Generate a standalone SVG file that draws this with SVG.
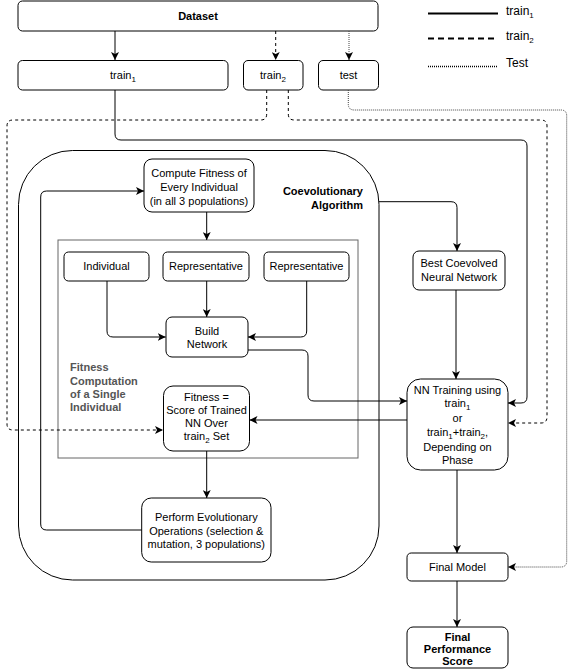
<svg xmlns="http://www.w3.org/2000/svg" width="575" height="669" viewBox="0 0 575 669">
<style>
.box{fill:#fff;stroke:#000;stroke-width:1}
.t{font-family:"Liberation Sans",Arial,sans-serif;font-size:11px;fill:#000;text-anchor:middle}
.b{font-weight:bold}
.gray{fill:#555;font-weight:bold;text-anchor:start}
.c{fill:none;stroke:#000;stroke-width:1}
.dash{stroke-dasharray:3 3}
.dot{stroke-dasharray:1 1;stroke:#444}
.lg{font-family:"Liberation Sans",Arial,sans-serif;font-size:12px;fill:#000}
</style>
<defs>
<marker id="ah" markerWidth="9" markerHeight="8" refX="8" refY="4" orient="auto" markerUnits="userSpaceOnUse">
<path d="M0,0 L8,4 L0,8 L2,4 Z" fill="#000"/>
</marker>
</defs>
<rect width="575" height="669" fill="#fff"/>

<g id="legend">
<line x1="428" y1="13.5" x2="498" y2="13.5" stroke="#000" stroke-width="2"/>
<text class="lg" x="506" y="15">train<tspan font-size="8" dy="3">1</tspan></text>
<line x1="428" y1="38.5" x2="498" y2="38.5" stroke="#000" stroke-width="2" stroke-dasharray="6 4"/>
<text class="lg" x="506" y="40">train<tspan font-size="8" dy="3">2</tspan></text>
<line x1="428" y1="66.5" x2="498" y2="66.5" stroke="#000" stroke-width="1.5" stroke-dasharray="1 1"/>
<text class="lg" x="506" y="67">Test</text>
</g>

<g id="coevolutionary">
<rect class="box" x="18.5" y="150.5" width="360.5" height="429.5" rx="54"/>
<text class="t b" x="363" y="195" text-anchor="end" style="text-anchor:end">Coevolutionary</text>
<text class="t b" x="363" y="209" style="text-anchor:end">Algorithm</text>
</g>

<g id="fitness-computation">
<rect x="58" y="240" width="300" height="218" fill="#fff" stroke="#666"/>
<text class="t gray" x="70" y="371">Fitness</text>
<text class="t gray" x="70" y="384.5">Computation</text>
<text class="t gray" x="70" y="398">of a Single</text>
<text class="t gray" x="70" y="411">Individual</text>
</g>

<g id="dataset">
<rect class="box" x="18" y="1" width="360" height="30" rx="4.5"/>
<text class="t b" x="198" y="20">Dataset</text>
</g>
<g id="train1">
<rect class="box" x="18" y="60.5" width="210" height="29.5" rx="4.5"/>
<text class="t" x="123" y="79">train<tspan font-size="8" dy="3">1</tspan></text>
</g>
<g id="train2">
<rect class="box" x="243.5" y="60.5" width="59.5" height="29.5" rx="4.5"/>
<text class="t" x="273" y="79">train<tspan font-size="8" dy="3">2</tspan></text>
</g>
<g id="test">
<rect class="box" x="318.5" y="60.5" width="60" height="29.5" rx="4.5"/>
<text class="t" x="348.5" y="79">test</text>
</g>

<g id="compute-fitness">
<rect class="box" x="144" y="159" width="110" height="53" rx="8"/>
<text class="t" x="199" y="177">Compute Fitness of</text>
<text class="t" x="199" y="191">Every Individual</text>
<text class="t" x="199" y="205">(in all 3 populations)</text>
</g>
<g id="individual">
<rect class="box" x="64" y="252" width="85" height="29" rx="4.5"/>
<text class="t" x="106.5" y="270">Individual</text>
</g>
<g id="representative1">
<rect class="box" x="163" y="252" width="86" height="29" rx="4.5"/>
<text class="t" x="206" y="270">Representative</text>
</g>
<g id="representative2">
<rect class="box" x="264" y="252" width="85" height="29" rx="4.5"/>
<text class="t" x="306.5" y="270">Representative</text>
</g>
<g id="build-network">
<rect class="box" x="166" y="317" width="82" height="40" rx="6"/>
<text class="t" x="207" y="335">Build</text>
<text class="t" x="207" y="348">Network</text>
</g>
<g id="fitness">
<rect class="box" x="163.5" y="386" width="86" height="65" rx="9.5"/>
<text class="t" x="206.5" y="401">Fitness =</text>
<text class="t" x="206.5" y="414">Score of Trained</text>
<text class="t" x="206.5" y="427">NN Over</text>
<text class="t" x="206.5" y="440">train<tspan font-size="8" dy="3">2</tspan><tspan dy="-3"> Set</tspan></text>
</g>
<g id="perform">
<rect class="box" x="141.7" y="498" width="129.3" height="64" rx="9.5"/>
<text class="t" x="206.3" y="521">Perform Evolutionary</text>
<text class="t" x="206.3" y="535">Operations (selection &amp;</text>
<text class="t" x="206.3" y="548">mutation, 3 populations)</text>
</g>
<g id="best">
<rect class="box" x="413" y="251" width="92" height="39" rx="6"/>
<text class="t" x="459" y="267">Best Coevolved</text>
<text class="t" x="459" y="281">Neural Network</text>
</g>
<g id="nn-training">
<rect class="box" x="407" y="379" width="101" height="91" rx="13.5"/>
<text class="t" x="457.5" y="394">NN Training using</text>
<text class="t" x="457.5" y="407">train<tspan font-size="8" dy="3">1</tspan></text>
<text class="t" x="457.5" y="422">or</text>
<text class="t" x="457.5" y="436">train<tspan font-size="8" dy="3">1</tspan><tspan dy="-3">+train</tspan><tspan font-size="8" dy="3">2</tspan><tspan dy="-3">,</tspan></text>
<text class="t" x="457.5" y="451">Depending on</text>
<text class="t" x="457.5" y="464">Phase</text>
</g>
<g id="final-model">
<rect class="box" x="407" y="553" width="101" height="28" rx="4.2"/>
<text class="t" x="457.5" y="571">Final Model</text>
</g>
<g id="final-score">
<rect class="box" x="407" y="627" width="101" height="41" rx="6"/>
<text class="t b" x="457.5" y="641">Final</text>
<text class="t b" x="457.5" y="653">Performance</text>
<text class="t b" x="457.5" y="665">Score</text>
</g>

<g id="connectors">
<path class="c" d="M115,31 V60" marker-end="url(#ah)"/>
<path class="c dash" d="M275.7,31 V60" marker-end="url(#ah)"/>
<path class="c dot" d="M349,31 V60" marker-end="url(#ah)"/>
<path class="c" stroke="#333" d="M115,90 V134 Q115,140 121,140 H521 Q527,140 527,146 V397 Q527,403 521,403 H508" marker-end="url(#ah)"/>
<path class="c dash" d="M266.7,90 V114 Q266.7,120 260.7,120 H13 Q7,120 7,126 V424 Q7,430 13,430 H163" marker-end="url(#ah)"/>
<path class="c dash" d="M288.3,90 V114 Q288.3,120 294.3,120 H541 Q547,120 547,126 V417 Q547,423 541,423 H508" marker-end="url(#ah)"/>
<path class="c dot" d="M348.3,90 V104 Q348.3,110 354.3,110 H561 Q566.7,110 566.7,116 V561 Q566.7,567 560.7,567 H508" marker-end="url(#ah)"/>
<path class="c" d="M206.7,212 V240" marker-end="url(#ah)"/>
<path class="c" d="M107,281 V331 Q107,337 113,337 H165.7" marker-end="url(#ah)"/>
<path class="c" d="M206.7,281 V317" marker-end="url(#ah)"/>
<path class="c" d="M306.7,281 V331 Q306.7,337 300.7,337 H248" marker-end="url(#ah)"/>
<path class="c" d="M248,350 H302 Q308,350 308,356 V395 Q308,401 314,401 H407" marker-end="url(#ah)"/>
<path class="c" stroke="#333" d="M407,420 H249.5" marker-end="url(#ah)"/>
<path class="c" stroke="#333" d="M206.7,451 V498" marker-end="url(#ah)"/>
<path class="c" d="M141.7,530 H46.7 Q40.7,530 40.7,524 V197 Q40.7,191 46.7,191 H144" marker-end="url(#ah)"/>
<path class="c" d="M379,201.7 H451 Q457,201.7 457,207.7 V251" marker-end="url(#ah)"/>
<path class="c" d="M456,290 V379" marker-end="url(#ah)"/>
<path class="c" d="M457,470 V553" marker-end="url(#ah)"/>
<path class="c" d="M457,581 V627" marker-end="url(#ah)"/>
</g>
</svg>
